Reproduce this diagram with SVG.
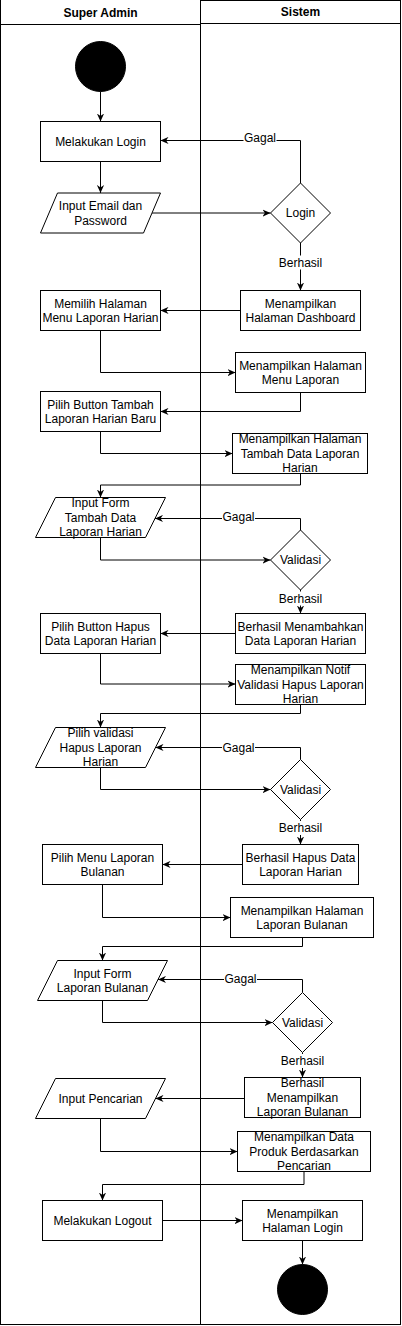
<svg xmlns="http://www.w3.org/2000/svg" width="402" height="1326" viewBox="0 0 402 1326">
<style>
.n{fill:#fff;stroke:#000;stroke-width:1}
.d{fill:#000;stroke:#000}
.t{font-family:"Liberation Sans",Arial,sans-serif;font-size:12px;fill:#000;text-anchor:middle}
.h{font-family:"Liberation Sans",Arial,sans-serif;font-size:12px;font-weight:bold;fill:#000;text-anchor:middle}
.c{fill:none;stroke:#000;stroke-width:1;marker-end:url(#ah)}
.lb{fill:#fff;stroke:none}
</style>
<defs>
<marker id="ah" viewBox="0 0 10 10" refX="10" refY="5" markerWidth="8" markerHeight="8" markerUnits="userSpaceOnUse" orient="auto">
<path d="M0,0.5 L10,5 L0,9.5 L3,5 z" fill="#000"/>
</marker>
</defs>
<g id="lanes">
<g id="lane-super-admin">
<rect x="0.5" y="-0.5" width="200" height="1325" fill="#fff" stroke="#000"/>
<line x1="0.5" y1="24.5" x2="200.5" y2="24.5" stroke="#000"/>
<text class="h" x="100.5" y="17">Super Admin</text>
</g>
<g id="lane-sistem">
<rect x="200.5" y="0.5" width="200" height="1324" fill="#fff" stroke="#000"/>
<line x1="200.5" y1="23.5" x2="400.5" y2="23.5" stroke="#000"/>
<text class="h" x="300.5" y="15.5">Sistem</text>
</g>
</g>
<g id="connectors">
<path class="c" d="M100.5,91.5 V121.5"/>
<path class="c" d="M100.5,161.5 V193"/>
<path class="c" d="M152,213 H270.5"/>
<path class="c" d="M300.5,183 V140.5 H160.5"/>
<path class="c" d="M300.5,243 V290.5"/>
<path class="c" d="M240.5,310.5 H160.5"/>
<path class="c" d="M100.5,330.5 V372.5 H235.5"/>
<path class="c" d="M300.5,392.5 V411.5 H160.5"/>
<path class="c" d="M100.5,431.5 V453.5 H232.5"/>
<path class="c" d="M300.5,473.5 V485 H100.5 V497.5"/>
<path class="c" d="M100.5,537.5 V560 H270.5"/>
<path class="c" d="M300.5,530 V518.5 H155"/>
<path class="c" d="M300.5,590 V613.5"/>
<path class="c" d="M235.5,633.5 H160.5"/>
<path class="c" d="M100.5,653.5 V684 H235.5"/>
<path class="c" d="M300.5,704.5 V713.5 H100.5 V727.5"/>
<path class="c" d="M100.5,767.5 V789.5 H270.5"/>
<path class="c" d="M300.5,759.5 V747.5 H155.5"/>
<path class="c" d="M300.5,819.5 V844.5"/>
<path class="c" d="M242.5,864.5 H162.5"/>
<path class="c" d="M102.5,884.5 V917.5 H230.5"/>
<path class="c" d="M302.5,937.5 V946.5 H102.5 V960.5"/>
<path class="c" d="M102.5,1000.5 V1022.5 H272.5"/>
<path class="c" d="M302.5,992.5 V979.5 H158"/>
<path class="c" d="M302.5,1052.5 V1077.5"/>
<path class="c" d="M244.5,1098.5 H155.5"/>
<path class="c" d="M100.5,1118.5 V1151.5 H237.5"/>
<path class="c" d="M304,1171.5 V1184.5 H102.5 V1200.5"/>
<path class="c" d="M162.5,1220.5 H242.5"/>
<path class="c" d="M302.5,1240.5 V1264.5"/>
<g id="labels">
<rect class="lb" x="243.5" y="133" width="33" height="14"/>
<text class="t" x="260" y="142">Gagal</text>
<rect class="lb" x="277.5" y="255.5" width="46" height="14"/>
<text class="t" x="300.5" y="267">Berhasil</text>
<rect class="lb" x="222" y="511" width="33" height="14"/>
<text class="t" x="238.5" y="521">Gagal</text>
<rect class="lb" x="277.5" y="591.5" width="46" height="14"/>
<text class="t" x="300.5" y="602.5">Berhasil</text>
<rect class="lb" x="222" y="740.5" width="33" height="14"/>
<text class="t" x="238.5" y="751.5">Gagal</text>
<rect class="lb" x="277.5" y="821" width="46" height="14"/>
<text class="t" x="300.5" y="832">Berhasil</text>
<rect class="lb" x="224" y="972" width="33" height="14"/>
<text class="t" x="240.5" y="983">Gagal</text>
<rect class="lb" x="279.5" y="1054" width="46" height="14"/>
<text class="t" x="302.5" y="1065">Berhasil</text>
</g>
</g>
<g id="start"><circle class="d" cx="100.5" cy="66.5" r="25"/></g>
<g id="melakukan-login">
<rect class="n" x="40.5" y="121.5" width="120" height="40"/>
<text class="t" x="100.5" y="145.7">Melakukan Login</text>
</g>
<g id="input-email">
<polygon class="n" points="57.5,193 160.5,193 143.5,233 40.5,233"/>
<text class="t" x="100.5" y="210.3">Input Email dan</text>
<text class="t" x="100.5" y="224.7">Password</text>
</g>
<g id="login-decision">
<polygon class="n" points="300.5,183 330.5,213 300.5,243 270.5,213"/>
<text class="t" x="300.5" y="217.2">Login</text>
</g>
<g id="dashboard">
<rect class="n" x="240.5" y="290.5" width="120" height="40"/>
<text class="t" x="300.5" y="307.5">Menampilkan</text>
<text class="t" x="300.5" y="321.9">Halaman Dashboard</text>
</g>
<g id="memilih-halaman">
<rect class="n" x="40.5" y="290.5" width="120" height="40"/>
<text class="t" x="100.5" y="307.5">Memilih Halaman</text>
<text class="t" x="100.5" y="321.9">Menu Laporan Harian</text>
</g>
<g id="menu-laporan">
<rect class="n" x="235.5" y="352.5" width="130" height="40"/>
<text class="t" x="300.5" y="369.5">Menampilkan Halaman</text>
<text class="t" x="300.5" y="383.9">Menu Laporan</text>
</g>
<g id="pilih-tambah">
<rect class="n" x="40.5" y="391.5" width="120" height="40"/>
<text class="t" x="100.5" y="408.5">Pilih Button Tambah</text>
<text class="t" x="100.5" y="422.9">Laporan Harian Baru</text>
</g>
<g id="tambah-data">
<rect class="n" x="232.5" y="433.5" width="135" height="40"/>
<text class="t" x="300" y="443.3">Menampilkan Halaman</text>
<text class="t" x="300" y="457.7">Tambah Data Laporan</text>
<text class="t" x="300" y="472.1">Harian</text>
</g>
<g id="input-form-tambah">
<polygon class="n" points="55.5,497.5 165.5,497.5 145.5,537.5 35.5,537.5"/>
<text class="t" x="100.5" y="507.3">Input Form</text>
<text class="t" x="100.5" y="521.7">Tambah Data</text>
<text class="t" x="100.5" y="536.1">Laporan Harian</text>
</g>
<g id="validasi-1">
<polygon class="n" points="300.5,530 330.5,560 300.5,590 270.5,560"/>
<text class="t" x="300.5" y="564.2">Validasi</text>
</g>
<g id="berhasil-tambah">
<rect class="n" x="235.5" y="613.5" width="130" height="40"/>
<text class="t" x="300.5" y="630.5">Berhasil Menambahkan</text>
<text class="t" x="300.5" y="644.9">Data Laporan Harian</text>
</g>
<g id="pilih-hapus">
<rect class="n" x="40.5" y="613.5" width="120" height="40"/>
<text class="t" x="100.5" y="630.5">Pilih Button Hapus</text>
<text class="t" x="100.5" y="644.9">Data Laporan Harian</text>
</g>
<g id="notif-hapus">
<rect class="n" x="235.5" y="664.5" width="130" height="40"/>
<text class="t" x="300.5" y="674.3">Menampilkan Notif</text>
<text class="t" x="300.5" y="688.7">Validasi Hapus Laporan</text>
<text class="t" x="300.5" y="703.1">Harian</text>
</g>
<g id="pilih-validasi">
<polygon class="n" points="55.5,727.5 165.5,727.5 145.5,767.5 35.5,767.5"/>
<text class="t" x="100.5" y="737.3">Pilih validasi</text>
<text class="t" x="100.5" y="751.7">Hapus Laporan</text>
<text class="t" x="100.5" y="766.1">Harian</text>
</g>
<g id="validasi-2">
<polygon class="n" points="300.5,759.5 330.5,789.5 300.5,819.5 270.5,789.5"/>
<text class="t" x="300.5" y="793.7">Validasi</text>
</g>
<g id="berhasil-hapus">
<rect class="n" x="242.5" y="844.5" width="116" height="40"/>
<text class="t" x="300.5" y="861.5">Berhasil Hapus Data</text>
<text class="t" x="300.5" y="875.9">Laporan Harian</text>
</g>
<g id="pilih-bulanan">
<rect class="n" x="42.5" y="844.5" width="120" height="40"/>
<text class="t" x="102.5" y="861.5">Pilih Menu Laporan</text>
<text class="t" x="102.5" y="875.9">Bulanan</text>
</g>
<g id="laporan-bulanan">
<rect class="n" x="230.5" y="897.5" width="143" height="40"/>
<text class="t" x="302" y="914.5">Menampilkan Halaman</text>
<text class="t" x="302" y="928.9">Laporan Bulanan</text>
</g>
<g id="input-form-bulanan">
<polygon class="n" points="57.5,960.5 167.5,960.5 147.5,1000.5 37.5,1000.5"/>
<text class="t" x="102.5" y="977.5">Input Form</text>
<text class="t" x="102.5" y="991.9">Laporan Bulanan</text>
</g>
<g id="validasi-3">
<polygon class="n" points="302.5,992.5 332.5,1022.5 302.5,1052.5 272.5,1022.5"/>
<text class="t" x="302.5" y="1026.7">Validasi</text>
</g>
<g id="berhasil-bulanan">
<rect class="n" x="244.5" y="1077.5" width="116" height="40"/>
<text class="t" x="302.5" y="1087.3">Berhasil</text>
<text class="t" x="302.5" y="1101.7">Menampilkan</text>
<text class="t" x="302.5" y="1116.1">Laporan Bulanan</text>
</g>
<g id="input-pencarian">
<polygon class="n" points="55.5,1078.5 165.5,1078.5 145.5,1118.5 35.5,1118.5"/>
<text class="t" x="100.5" y="1102.7">Input Pencarian</text>
</g>
<g id="data-produk">
<rect class="n" x="237.5" y="1131.5" width="133" height="40"/>
<text class="t" x="304" y="1141.3">Menampilkan Data</text>
<text class="t" x="304" y="1155.7">Produk Berdasarkan</text>
<text class="t" x="304" y="1170.1">Pencarian</text>
</g>
<g id="melakukan-logout">
<rect class="n" x="42.5" y="1200.5" width="120" height="40"/>
<text class="t" x="102.5" y="1224.7">Melakukan Logout</text>
</g>
<g id="halaman-login">
<rect class="n" x="242.5" y="1200.5" width="120" height="40"/>
<text class="t" x="302.5" y="1217.5">Menampilkan</text>
<text class="t" x="302.5" y="1231.9">Halaman Login</text>
</g>
<g id="end"><circle class="d" cx="302.5" cy="1289.5" r="25"/></g>
</svg>
